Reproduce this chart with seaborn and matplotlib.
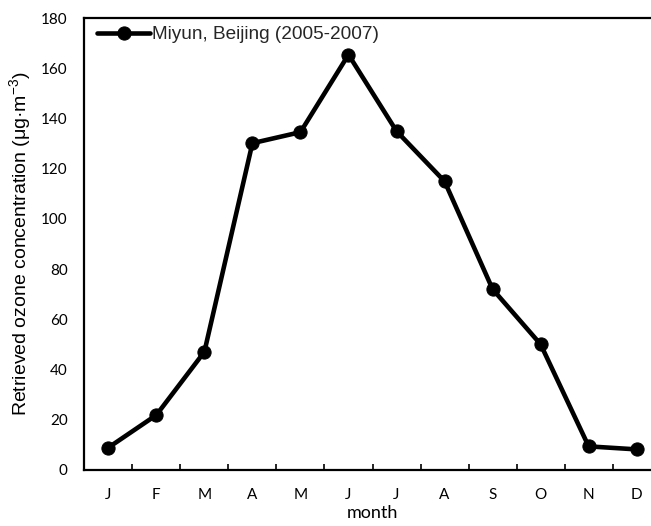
import matplotlib
matplotlib.use("Agg")
import matplotlib.pyplot as plt
import seaborn as sns
import pandas as pd
from matplotlib.ticker import FixedLocator

months = ["J", "F", "M", "A", "M", "J", "J", "A", "S", "O", "N", "D"]
ozone = [8.8, 21.8, 47, 130.2, 134.6, 165.5, 135, 115, 72, 50, 9.3, 8.1]
series_name = "Miyun, Beijing (2005-2007)"

df = pd.DataFrame({"pos": list(range(len(months))), "ozone": ozone,
                   "series": [series_name] * len(months)})

sns.set_theme(style="white")
plt.rcParams["font.family"] = ["Lato", "DejaVu Sans"]
plt.rcParams["mathtext.default"] = "regular"

fig = plt.figure(figsize=(6.51, 5.26), dpi=100)
W, H = 651, 526
left, right, top, bottom = 84.3, 660.7, 18.3, 469.7
ax = fig.add_axes([left / W, 1 - bottom / H, (right - left) / W, (bottom - top) / H])

sns.lineplot(data=df, x="pos", y="ozone", hue="series", palette=["black"],
             marker="o", markersize=9.5, linewidth=3.3, markeredgecolor="black",
             ax=ax)

ax.set_xlim(-0.5, 11.5)
ax.set_ylim(0, 180)
ax.set_yticks(range(0, 181, 20))
ax.set_xticks(range(len(months)))
ax.set_xticklabels(months)
ax.xaxis.set_minor_locator(FixedLocator([i + 0.5 for i in range(11)]))
ax.tick_params(axis="x", which="major", length=0, pad=13, labelsize=11, colors="black")
ax.tick_params(axis="x", which="minor", direction="in", length=4.5, width=1.2,
               color="black", bottom=True)
ax.tick_params(axis="y", length=0, pad=12, labelsize=11, colors="black")

for s in ax.spines.values():
    s.set_color("black")
    s.set_linewidth(1.6)
    s.set_visible(True)

ax.set_xlabel("month", fontsize=13, color="black", labelpad=2)
ax.set_ylabel("Retrieved ozone concentration (μg·m$^{-3}$)", fontsize=14,
              color="black", labelpad=6, family=["Liberation Sans", "DejaVu Sans"])

leg = ax.legend(loc="upper left", bbox_to_anchor=(0.009, 1.0), frameon=False,
                handlelength=2.8, handletextpad=0.1, borderaxespad=0.1,
                borderpad=0.3, prop={"family": "Liberation Sans", "size": 13.7})
leg.set_title(None)

fig.savefig("out.png", dpi=100)
